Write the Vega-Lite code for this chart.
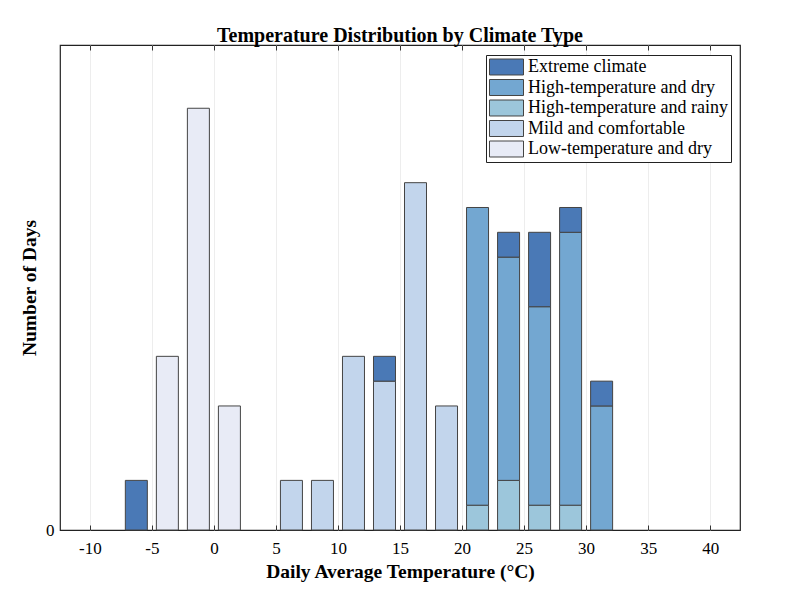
{
  "$schema": "https://vega.github.io/schema/vega-lite/v6.json",
  "width": 680,
  "height": 485,
  "autosize": "none",
  "padding": {"left": 60, "top": 45, "right": 47, "bottom": 77},
  "background": "white",
  "title": {
    "text": "Temperature Distribution by Climate Type",
    "font": "Liberation Serif",
    "fontSize": 20,
    "fontWeight": "bold",
    "color": "#000000",
    "offset": -1,
    "anchor": "middle"
  },
  "data": {
    "values": [
      {"temp": -6.25, "type": "Extreme climate", "days": 2},
      {"temp": -3.75, "type": "Low-temperature and dry", "days": 7},
      {"temp": -1.25, "type": "Low-temperature and dry", "days": 17},
      {"temp": 1.25, "type": "Low-temperature and dry", "days": 5},
      {"temp": 6.25, "type": "Mild and comfortable", "days": 2},
      {"temp": 8.75, "type": "Mild and comfortable", "days": 2},
      {"temp": 11.25, "type": "Mild and comfortable", "days": 7},
      {"temp": 13.75, "type": "Mild and comfortable", "days": 6},
      {"temp": 13.75, "type": "Extreme climate", "days": 1},
      {"temp": 16.25, "type": "Mild and comfortable", "days": 14},
      {"temp": 18.75, "type": "Mild and comfortable", "days": 5},
      {"temp": 21.25, "type": "High-temperature and rainy", "days": 1},
      {"temp": 21.25, "type": "High-temperature and dry", "days": 12},
      {"temp": 23.75, "type": "High-temperature and rainy", "days": 2},
      {"temp": 23.75, "type": "High-temperature and dry", "days": 9},
      {"temp": 23.75, "type": "Extreme climate", "days": 1},
      {"temp": 26.25, "type": "High-temperature and rainy", "days": 1},
      {"temp": 26.25, "type": "High-temperature and dry", "days": 8},
      {"temp": 26.25, "type": "Extreme climate", "days": 3},
      {"temp": 28.75, "type": "High-temperature and rainy", "days": 1},
      {"temp": 28.75, "type": "High-temperature and dry", "days": 11},
      {"temp": 28.75, "type": "Extreme climate", "days": 1},
      {"temp": 31.25, "type": "High-temperature and dry", "days": 5},
      {"temp": 31.25, "type": "Extreme climate", "days": 1}
    ]
  },
  "resolve": {"axis": {"x": "independent"}},
  "layer": [
    {
      "mark": {"type": "bar", "size": 22, "stroke": "#444444", "strokeWidth": 1},
      "encoding": {
        "x": {
          "field": "temp",
          "type": "quantitative",
          "scale": {"domain": [-12, 42], "nice": false, "zero": false},
          "axis": {
            "orient": "bottom",
            "values": [-10, -5, 0, 5, 10, 15, 20, 25, 30, 35, 40],
            "labelExpr": "'' + datum.value",
            "title": "Daily Average Temperature (°C)",
            "grid": true,
            "gridColor": "#ededed",
            "gridWidth": 1,
            "tickSize": -5,
            "tickColor": "#333333",
            "domain": false,
            "labelPadding": 15,
            "titlePadding": 6
          }
        },
        "y": {
          "field": "days",
          "type": "quantitative",
          "stack": "zero",
          "scale": {"domain": [0, 19.55], "nice": false},
          "axis": {
            "values": [0],
            "title": "Number of Days",
            "grid": false,
            "ticks": false,
            "domain": false,
            "labelPadding": 6,
            "titlePadding": 6
          }
        },
        "color": {
          "field": "type",
          "type": "nominal",
          "scale": {
            "domain": [
              "Extreme climate",
              "High-temperature and dry",
              "High-temperature and rainy",
              "Mild and comfortable",
              "Low-temperature and dry"
            ],
            "range": ["#4a79b6", "#73a7d1", "#9cc6db", "#c2d5ec", "#e8ebf6"]
          },
          "legend": {
            "title": null,
            "orient": "none",
            "legendX": 426,
            "legendY": 10,
            "symbolType": "M-1,-0.94H3V0.94H-1Z",
            "symbolSize": 289,
            "symbolStrokeColor": "#444444",
            "symbolStrokeWidth": 1,
            "symbolOpacity": 1,
            "labelFont": "Liberation Serif",
            "labelFontSize": 18,
            "labelColor": "#000000",
            "labelLimit": 400,
            "labelOffset": 21,
            "rowPadding": 0.5,
            "padding": 3,
            "strokeColor": "#222222",
            "fillColor": "white"
          }
        },
        "order": {"field": "type", "sort": "descending"}
      }
    },
    {
      "mark": {"type": "point", "opacity": 0},
      "encoding": {
        "x": {
          "field": "temp",
          "type": "quantitative",
          "axis": {
            "orient": "top",
            "values": [-10, -5, 0, 5, 10, 15, 20, 25, 30, 35, 40],
            "labels": false,
            "title": null,
            "grid": false,
            "tickSize": -5,
            "tickColor": "#333333",
            "domain": false
          }
        }
      }
    }
  ],
  "config": {
    "view": {"stroke": "#222222", "strokeWidth": 1.2},
    "axis": {
      "labelFont": "Liberation Serif",
      "labelFontSize": 17,
      "labelColor": "#000000",
      "titleFont": "Liberation Serif",
      "titleFontSize": 19.5,
      "titleFontWeight": "bold",
      "titleColor": "#000000"
    }
  }
}
